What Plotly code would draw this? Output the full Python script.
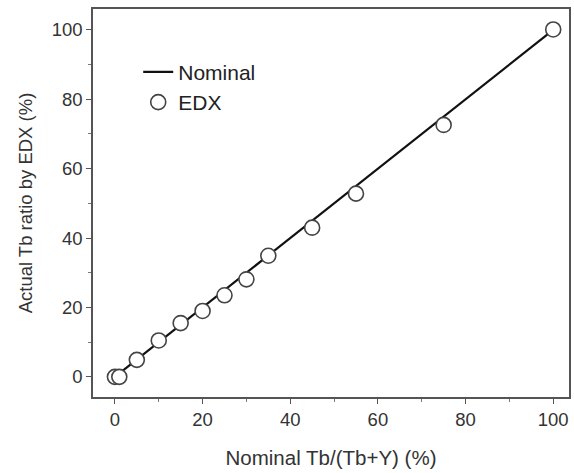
import plotly.graph_objects as go

nominal_x = [0, 100]
nominal_y = [0, 100]
edx_x = [0, 1, 5, 10, 15, 20, 25, 30, 35, 45, 55, 75, 100]
edx_y = [0, 0, 4.9, 10.5, 15.5, 19, 23.5, 28.1, 34.9, 43, 52.8, 72.6, 100.1]
x_ticks = [0, 20, 40, 60, 80, 100]
y_ticks = [0, 20, 40, 60, 80, 100]

FONT = "Liberation Sans, Arial"

fig = go.Figure()
fig.add_trace(go.Scatter(x=nominal_x, y=nominal_y, mode="lines", name="Nominal",
                         line=dict(color="#111111", width=2.2)))
fig.add_trace(go.Scatter(x=edx_x, y=edx_y, mode="markers", name="EDX",
                         marker=dict(symbol="circle", size=15, color="white",
                                     line=dict(color="#444444", width=1.6))))

axis_common = dict(showline=True, linecolor="#555555", linewidth=1.6, mirror=True,
                   ticks="outside", ticklen=5, tickwidth=1.3, tickcolor="#555555",
                   showgrid=False, zeroline=False,
                   tickfont=dict(family=FONT, size=18.5, color="#333333"),
                   minor=dict(ticks="outside", ticklen=3, tickwidth=1.2, tickcolor="#777777", dtick=10))

fig.update_xaxes(range=[-5, 103.6], tickvals=x_ticks,
                 title=dict(text="Nominal Tb/(Tb+Y) (%)", standoff=22,
                            font=dict(family=FONT, size=20.5, color="#333333")),
                 **axis_common)
fig.update_yaxes(range=[-5.8, 106], tickvals=y_ticks,
                 title=dict(text="Actual Tb ratio by EDX (%)", standoff=14,
                            font=dict(family=FONT, size=18.5, color="#333333")),
                 **axis_common)

fig.update_layout(width=574, height=473, margin=dict(l=93, r=3, t=9, b=76),
                  paper_bgcolor="white", plot_bgcolor="white",
                  legend=dict(x=0.095, y=0.89, xanchor="left", yanchor="top",
                              bgcolor="rgba(0,0,0,0)", tracegroupgap=0,
                              font=dict(family=FONT, size=21, color="#222222")),
                  showlegend=True)

fig.write_html("out.html")
